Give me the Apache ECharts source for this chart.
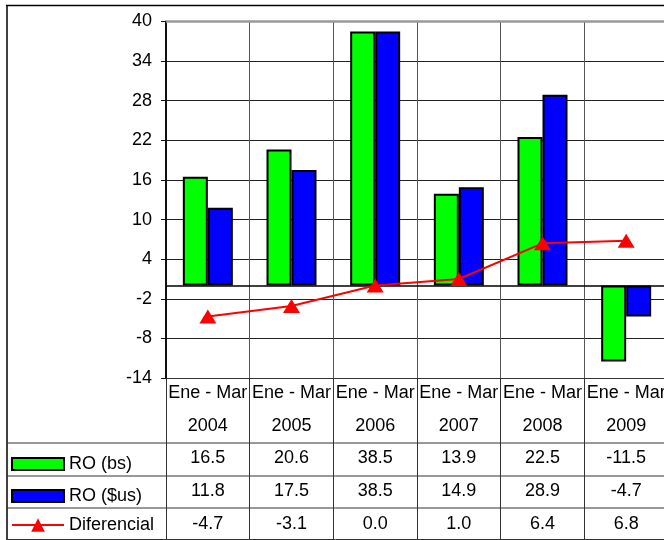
<!DOCTYPE html>
<html>
<head>
<meta charset="utf-8">
<script src="https://cdn.jsdelivr.net/npm/echarts@6/dist/echarts.min.js"></script>
<style>
html,body{margin:0;padding:0;background:#fff;}
#c{width:664px;height:540px;}
</style>
</head>
<body>
<div id="c"></div>
<script>
const periods = ['Ene - Mar', 'Ene - Mar', 'Ene - Mar', 'Ene - Mar', 'Ene - Mar', 'Ene - Mar'];
const years = ['2004', '2005', '2006', '2007', '2008', '2009'];
const roBs = [16.5, 20.6, 38.5, 13.9, 22.5, -11.5];
const roUs = [11.8, 17.5, 38.5, 14.9, 28.9, -4.7];
const diferencial = [-4.7, -3.1, 0.0, 1.0, 6.4, 6.8];
const seriesNames = ['RO (bs)', 'RO ($us)', 'Diferencial'];
const yMin = -14, yMax = 40, yStep = 6;

const FONT = "'Liberation Sans', Arial, sans-serif";
const FS = 18;
const chart = echarts.init(document.getElementById('c'), null, {renderer: 'canvas'});

const GRID_TOP = 21.5, GRID_H = 356.5;

function rowAxis(data, offset) {
  return {
    type: 'category', gridIndex: 0, position: 'bottom', offset: offset,
    data: data,
    axisLine: {show: false, onZero: false},
    axisTick: {show: false},
    splitLine: {show: false},
    axisLabel: {interval: 0, margin: 0, verticalAlign: 'middle', color: '#000', fontSize: FS, fontFamily: FONT}
  };
}

const legendText = {fontSize: FS, color: '#000', fontFamily: FONT};

const option = {
  animation: false,
  backgroundColor: '#fff',
  textStyle: {fontFamily: FONT, color: '#000'},
  grid: {left: 166, top: GRID_TOP, width: 502, height: GRID_H, containLabel: false, outerBoundsMode: 'none'},
  legend: [
    {data: [seriesNames[0]], left: 11, top: 455, padding: 0, itemWidth: 52, itemHeight: 12, itemGap: 0, itemTextGap: 5, icon: 'rect',
     textStyle: legendText, selectedMode: false},
    {data: [seriesNames[1]], left: 11, top: 487, padding: 0, itemWidth: 52, itemHeight: 12, itemGap: 0, itemTextGap: 5, icon: 'rect',
     textStyle: legendText, selectedMode: false},
    {data: [seriesNames[2]], left: 11, top: 516, padding: 0, itemWidth: 52, itemHeight: 17, itemGap: 0, itemTextGap: 5,
     textStyle: legendText, selectedMode: false}
  ],
  xAxis: [
    {
      type: 'category', gridIndex: 0, position: 'bottom', data: periods,
      axisLine: {show: true, onZero: false, lineStyle: {color: '#333', width: 1}},
      axisTick: {show: true, interval: 0, length: 162, lineStyle: {color: '#333', width: 1}},
      splitLine: {show: true, interval: 0, lineStyle: {color: '#555', width: 1}},
      axisLabel: {interval: 0, margin: 15, verticalAlign: 'middle', color: '#000', fontSize: FS, fontFamily: FONT}
    },
    rowAxis(years, 48),
    rowAxis(roBs.map(v => v.toFixed(1)), 80),
    rowAxis(roUs.map(v => v.toFixed(1)), 113),
    rowAxis(diferencial.map(v => v.toFixed(1)), 146)
  ],
  yAxis: {
    type: 'value', min: yMin, max: yMax, interval: yStep,
    axisLine: {show: true, lineStyle: {color: '#111', width: 2}},
    axisTick: {show: true, length: 5, lineStyle: {color: '#111'}},
    splitLine: {show: true, lineStyle: {color: '#222', width: 1}},
    axisLabel: {margin: 14, color: '#000', fontSize: FS, fontFamily: FONT}
  },
  series: [
    {
      name: seriesNames[0], type: 'bar', data: roBs, barWidth: 25, barGap: '0%',
      itemStyle: {color: '#00FF00', borderColor: '#000', borderWidth: 2},
      markLine: {
        silent: true, symbol: 'none', label: {show: false},
        lineStyle: {type: 'solid'},
        data: [
          {yAxis: 0, lineStyle: {color: '#000', width: 1.5}},
          {yAxis: yMax, lineStyle: {color: '#999', width: 2.5}}
        ]
      }
    },
    {
      name: seriesNames[1], type: 'bar', data: roUs, barWidth: 25, barGap: '0%',
      itemStyle: {color: '#0000FF', borderColor: '#000', borderWidth: 2}
    },
    {
      name: seriesNames[2], type: 'line', data: diferencial, z: 5,
      symbol: 'triangle', symbolSize: [17, 14], showSymbol: true,
      lineStyle: {color: '#FF0000', width: 2},
      itemStyle: {color: '#FF0000'}
    }
  ],
  graphic: [
    {type: 'line', shape: {x1: 6, y1: 5.5, x2: 664, y2: 5.5}, style: {stroke: '#000', lineWidth: 1.5}, silent: true},
    {type: 'line', shape: {x1: 7, y1: 5, x2: 7, y2: 540}, style: {stroke: '#000', lineWidth: 1.5}, silent: true},
    {type: 'line', shape: {x1: 7, y1: 443, x2: 664, y2: 443}, style: {stroke: '#333', lineWidth: 1}, silent: true},
    {type: 'line', shape: {x1: 7, y1: 476, x2: 664, y2: 476}, style: {stroke: '#333', lineWidth: 1}, silent: true},
    {type: 'line', shape: {x1: 7, y1: 508, x2: 664, y2: 508}, style: {stroke: '#333', lineWidth: 1}, silent: true},
    {type: 'line', shape: {x1: 7, y1: 539.5, x2: 664, y2: 539.5}, style: {stroke: '#333', lineWidth: 1}, silent: true}
  ]
};
chart.setOption(option);
</script>
</body>
</html>
